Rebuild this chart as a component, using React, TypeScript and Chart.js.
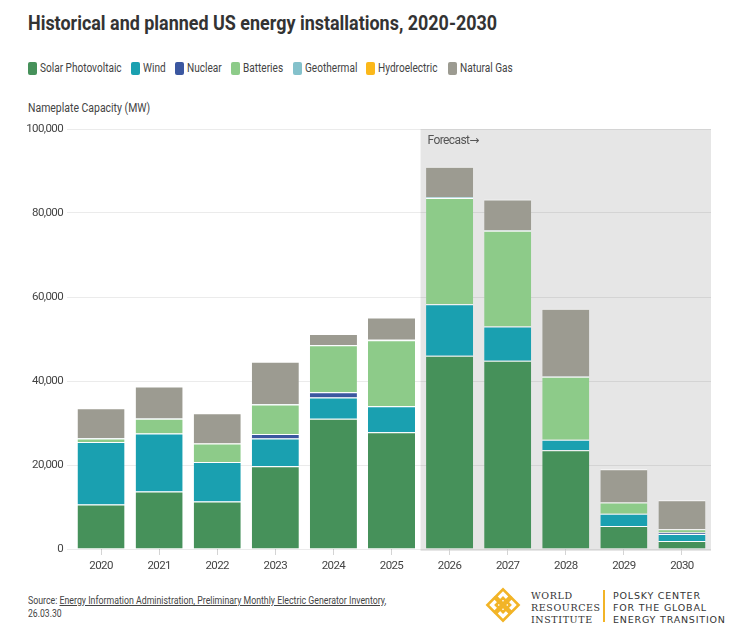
import React, { useEffect, useLayoutEffect, useRef } from "react";
import { Chart, registerables } from "chart.js";

Chart.register(...registerables);

const FONT = "Roboto, 'DejaVu Sans', sans-serif";

// values in MW
const years = ["2020", "2021", "2022", "2023", "2024", "2025", "2026", "2027", "2028", "2029", "2030"];
const solar = [10600, 13700, 11300, 19700, 31000, 27800, 46000, 44800, 23500, 5500, 1900];
const wind = [14900, 13800, 9400, 6600, 5100, 6200, 12300, 8200, 2500, 2900, 1700];
const nuclear = [0, 0, 0, 1100, 1200, 0, 0, 0, 0, 0, 300];
const batteries = [800, 3500, 4400, 7000, 11200, 15700, 25300, 22800, 15000, 2700, 800];
const geothermal = [100, 100, 0, 100, 100, 100, 200, 100, 100, 0, 0];
const hydro = [0, 0, 0, 0, 0, 0, 0, 0, 0, 0, 0];
const gas = [7100, 7600, 7200, 10100, 2600, 5300, 7200, 7300, 16100, 7900, 6900];
const yTicks = [0, 20000, 40000, 60000, 80000, 100000];
const forecastFrom = 6;

const series = [
  { label: "Solar Photovoltaic", data: solar, color: "#46915a" },
  { label: "Wind", data: wind, color: "#1aa0b0" },
  { label: "Nuclear", data: nuclear, color: "#3b57a0" },
  { label: "Batteries", data: batteries, color: "#8dcb89" },
  { label: "Geothermal", data: geothermal, color: "#84c1cb" },
  { label: "Hydroelectric", data: hydro, color: "#fbb81a" },
  { label: "Natural Gas", data: gas, color: "#9c9b91" },
];

const forecastBox = {
  id: "forecastBox",
  beforeDraw(chart: any) {
    const { ctx, chartArea, scales } = chart;
    // narrow the canvas text a bit, the original uses a condensed face
    ctx.letterSpacing = "-0.6px";
    const x = scales.x;
    const left = (x.getPixelForValue(forecastFrom - 1) + x.getPixelForValue(forecastFrom)) / 2;
    ctx.save();
    ctx.fillStyle = "#e6e6e6";
    ctx.fillRect(left, chartArea.top, chartArea.right - left, chartArea.bottom - chartArea.top + 2);
    ctx.fillStyle = "#555";
    ctx.font = `12px ${FONT}`;
    ctx.textBaseline = "middle";
    ctx.fillText("Forecast→", left + 7, chartArea.top + 12);
    ctx.restore();
  },
};

// squeezes text horizontally: by factor k, or to a target width
function Narrow({ k, target, style, children }: { k?: number; target?: number; style?: any; children: any }) {
  const outer = useRef<HTMLSpanElement>(null);
  const inner = useRef<HTMLSpanElement>(null);
  useLayoutEffect(() => {
    const o = outer.current;
    const i = inner.current;
    if (!o || !i) return;
    const nat = i.offsetWidth;
    const f = target ? target / nat : k || 1;
    i.style.transform = `scaleX(${f})`;
    o.style.width = `${nat * f}px`;
  }, []);
  return (
    <span ref={outer} style={{ display: "inline-block", whiteSpace: "nowrap", ...style }}>
      <span ref={inner} style={{ display: "inline-block", transformOrigin: "left center" }}>
        {children}
      </span>
    </span>
  );
}

function Logo() {
  const c = "#f2b427";
  return (
    <svg width="36" height="38" viewBox="0 0 36 38">
      <g transform="translate(18 19) rotate(45)" fill="none" stroke={c} strokeWidth="2.6">
        <rect x="-11" y="-11" width="10" height="10" />
        <rect x="1" y="-11" width="10" height="10" />
        <rect x="-11" y="1" width="10" height="10" />
        <rect x="1" y="1" width="10" height="10" />
        <rect x="-5" y="-5" width="10" height="10" />
      </g>
    </svg>
  );
}

export default function App() {
  const canvasRef = useRef<HTMLCanvasElement>(null);

  useEffect(() => {
    if (!canvasRef.current) return;
    const chart = new Chart(canvasRef.current, {
      type: "bar",
      data: {
        labels: years,
        datasets: series.map((s) => ({
          label: s.label,
          data: s.data,
          backgroundColor: s.color,
          borderColor: "rgba(255,255,255,0.9)",
          borderWidth: { top: 1, left: 0, right: 0, bottom: 0 },
          borderSkipped: false,
          barPercentage: 0.81,
          categoryPercentage: 1,
        })),
      },
      options: {
        animation: false,
        responsive: true,
        maintainAspectRatio: false,
        layout: { padding: { top: 14, right: 37, left: 0, bottom: 0 } },
        plugins: { legend: { display: false }, tooltip: { enabled: false } },
        scales: {
          x: {
            stacked: true,
            border: { display: false },
            grid: { display: true, drawOnChartArea: false, drawTicks: true, tickLength: 6, color: "#d4d4d4", offset: false },
            ticks: { color: "#444", font: { size: 11.5, family: FONT }, padding: 4 },
            afterFit: (s: any) => {
              s.height = 36;
            },
          },
          y: {
            stacked: true,
            min: yTicks[0],
            max: yTicks[yTicks.length - 1],
            border: { display: false },
            grid: { color: "rgba(0,0,0,0.08)", tickLength: 5 },
            afterBuildTicks: (s: any) => {
              s.ticks = yTicks.map((v) => ({ value: v }));
            },
            ticks: {
              color: "#444",
              font: { size: 11.5, family: FONT },
              padding: 4,
              callback: (v: any) => Number(v).toLocaleString("en-US"),
            },
            afterFit: (s: any) => {
              s.width = 72;
            },
          },
        },
      },
      plugins: [forecastBox],
    });
    return () => chart.destroy();
  }, []);

  return (
    <div style={{ position: "absolute", left: 0, top: 0, width: 748, height: 634, background: "#fff", fontFamily: FONT, color: "#444" }}>
      <div style={{ position: "absolute", left: 28, top: 11, fontSize: 20, fontWeight: 700, color: "#333", lineHeight: "24px" }}>
        <Narrow target={469}>Historical and planned US energy installations, 2020-2030</Narrow>
      </div>
      <div style={{ position: "absolute", left: 28, top: 61, display: "flex", gap: 9.5, fontSize: 12, lineHeight: "14px" }}>
        {series.map((s) => (
          <div key={s.label} style={{ display: "flex", alignItems: "center" }}>
            <span style={{ display: "inline-block", width: 9, height: 13, borderRadius: 2, background: s.color, marginRight: 3 }} />
            <Narrow k={0.84}>{s.label}</Narrow>
          </div>
        ))}
      </div>
      <div style={{ position: "absolute", left: 28, top: 101, fontSize: 12, lineHeight: "14px" }}>
        <Narrow target={122}>Nameplate Capacity (MW)</Narrow>
      </div>
      <div style={{ position: "absolute", left: 0, top: 115, width: 748, height: 470 }}>
        <canvas ref={canvasRef} />
      </div>
      <div style={{ position: "absolute", left: 28, top: 594, fontSize: 10.5, lineHeight: "13px" }}>
        <Narrow target={358}>
          Source: <span style={{ textDecoration: "underline" }}>Energy Information Administration, Preliminary Monthly Electric Generator Inventory</span>,
        </Narrow>
        <br />
        <Narrow k={0.82}>26.03.30</Narrow>
      </div>
      <div style={{ position: "absolute", left: 485, top: 586 }}>
        <Logo />
      </div>
      <div style={{ position: "absolute", left: 531, top: 590, fontFamily: "'DejaVu Serif', serif", fontSize: 9.5, lineHeight: "12px", letterSpacing: 0.6, color: "#333" }}>
        WORLD<br />RESOURCES<br />INSTITUTE
      </div>
      <div style={{ position: "absolute", left: 603, top: 590, width: 1.5, height: 32, background: "#f2b427" }} />
      <div style={{ position: "absolute", left: 613, top: 590, fontFamily: "'DejaVu Sans', sans-serif", fontSize: 9.5, lineHeight: "12px", letterSpacing: 0.8, color: "#333" }}>
        POLSKY CENTER<br />FOR THE GLOBAL<br />ENERGY TRANSITION
      </div>
    </div>
  );
}
